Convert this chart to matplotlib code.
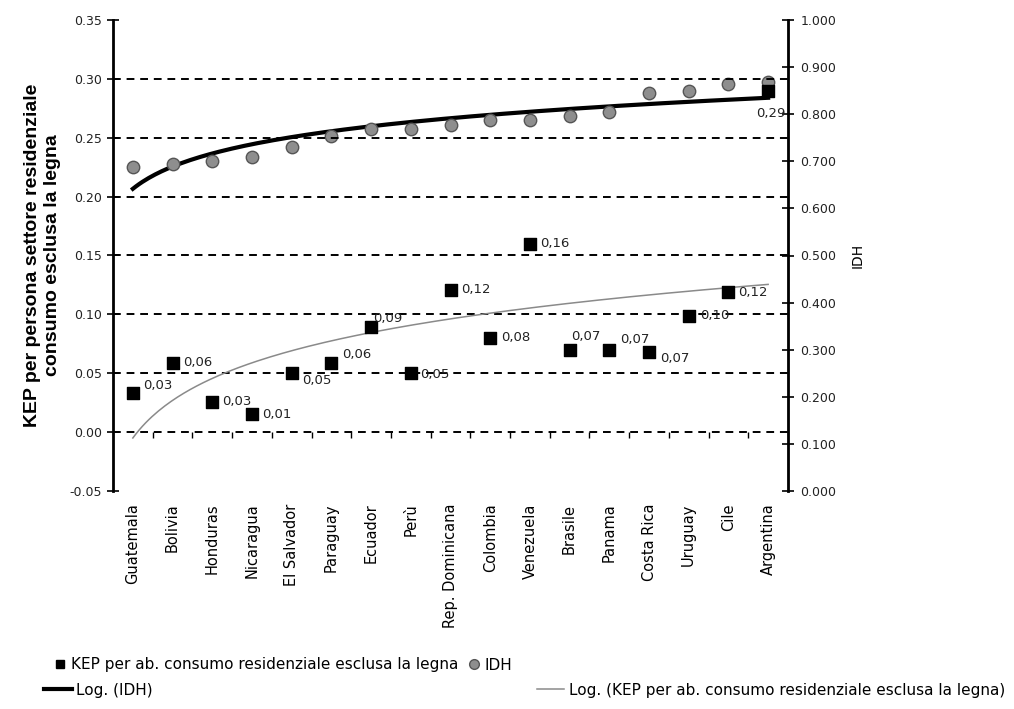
import numpy as np
import matplotlib
matplotlib.use("Agg")
from matplotlib import pyplot as plt
from matplotlib.lines import Line2D

plt.rcParams['font.family'] = ['DejaVu Sans']

# Paesi ordinati per IDH crescente
paesi = ['Guatemala', 'Bolivia', 'Honduras', 'Nicaragua', 'El Salvador',
         'Paraguay', 'Ecuador', 'Perù', 'Rep. Dominicana', 'Colombia',
         'Venezuela', 'Brasile', 'Panama', 'Costa Rica', 'Uruguay', 'Cile',
         'Argentina']

# KEP per abitante, consumo residenziale esclusa la legna
kep = [0.033, 0.059, 0.026, 0.015, 0.050, 0.059, 0.089, 0.050, 0.121,
       0.080, 0.160, 0.070, 0.070, 0.068, 0.099, 0.119, 0.290]
kep_lab = ['0,03', '0,06', '0,03', '0,01', '0,05', '0,06', '0,09', '0,05',
           '0,12', '0,08', '0,16', '0,07', '0,07', '0,07', '0,10', '0,12',
           '0,29']

# Indice di sviluppo umano
idh = [0.688, 0.694, 0.700, 0.709, 0.730, 0.754, 0.768, 0.769, 0.777,
       0.788, 0.788, 0.796, 0.805, 0.845, 0.849, 0.864, 0.869]

# spostamento delle etichette (pixel)
lab_dx = [10, 11, 10, 10, 10, 11, 2, 9, 11, 11, 10, 2, 11, 11, 11, 10, -12]
lab_dy = [8, 0, 0, 0, -7, 8, 9, -1, 0, 0, 0, 13, 10, -6, 0, 0, -23]

x = np.arange(len(paesi))
xe = x + 1.0  # posizioni come nelle tendenze di Excel (1..n)

fig = plt.figure(figsize=(10.14, 7.09), dpi=100)
ax = fig.add_axes([113/1014, 1-491/709, (788-113)/1014, (491-20)/709])
ax2 = ax.twinx()

ax.set_xlim(-0.5, len(paesi) - 0.5)
ax.set_ylim(-0.05, 0.35)
ax2.set_ylim(0.0, 1.0)

# griglia tratteggiata
ax.set_yticks(np.arange(-0.05, 0.351, 0.05))
ax.set_yticklabels(['%.2f' % v for v in np.arange(-0.05, 0.351, 0.05)])
for v in np.arange(0.0, 0.301, 0.05):
    ax.axhline(v, color='black', lw=1.4, ls=(0, (4, 3)), zorder=0.5)

ax2.set_yticks(np.arange(0, 1.001, 0.1))
ax2.set_yticklabels(['%.3f' % v for v in np.arange(0, 1.001, 0.1)])

for a in (ax, ax2):
    a.spines['top'].set_visible(False)
    a.spines['bottom'].set_visible(False)
ax2.spines['left'].set_visible(False)
ax.spines['left'].set_linewidth(2)
ax2.spines['right'].set_linewidth(2)
ax.tick_params(axis='y', direction='inout', length=8, width=1.2,
               labelsize=9, labelcolor='#222222', pad=4)
ax2.tick_params(axis='y', direction='inout', length=8, width=1.2,
                labelsize=9, labelcolor='#222222', pad=5)

# etichette delle categorie
ax.set_xticks(x)
ax.set_xticklabels(paesi, rotation=90, fontsize=10.5, va='top')
ax.tick_params(axis='x', length=0, pad=9)

# tacche dell'asse orizzontale su y = 0
sec = ax.secondary_xaxis(0.125)
sec.set_xticks(np.arange(0.5, len(paesi) - 1, 1.0))
sec.set_xticklabels([])
sec.spines['bottom'].set_visible(False)
sec.tick_params(length=4, width=1, direction='out')

# tendenze logaritmiche
xs = np.linspace(1, len(paesi), 200)
a_k, b_k = np.polyfit(np.log(xe), kep, 1)
ax.plot(xs - 1, a_k*np.log(xs) + b_k, color='#8a8a8a', lw=1.1, zorder=2)
a_i, b_i = np.polyfit(np.log(xe), idh, 1)
ax2.plot(xs - 1, a_i*np.log(xs) + b_i, color='black', lw=3, zorder=2)

ax2.scatter(x, idh, marker='o', s=80, color='#8e8e8e', edgecolor='#555555',
            lw=1, zorder=3)
ax.scatter(x, kep, marker='s', s=65, color='black', zorder=3)
ax.set_zorder(ax2.get_zorder() + 1)
ax.patch.set_visible(False)

for xi, yi, t, dx, dy in zip(x, kep, kep_lab, lab_dx, lab_dy):
    ax.annotate(t, (xi, yi), xytext=(dx*0.72, dy*0.72), textcoords='offset points',
                ha='left', va='center', fontsize=9.5, color='#222222')

ax.set_ylabel('KEP per persona settore residenziale\nconsumo esclusa la legna',
              fontsize=14, fontweight='bold', labelpad=6,
              family=['Liberation Sans', 'DejaVu Sans'])
ax2.set_ylabel('IDH', fontsize=10, rotation=90, labelpad=10)

# legenda
h1 = [Line2D([], [], ls='none', marker='s', color='black', ms=6),
      Line2D([], [], ls='none', marker='o', color='#8e8e8e', mec='#555555', ms=7)]
fig.legend(h1, ['KEP per ab. consumo residenziale esclusa la legna', 'IDH'],
           loc='center left', bbox_to_anchor=(0.04, 1-665/709), ncol=2,
           frameon=False, fontsize=11, handlelength=0.8, handletextpad=0.3,
           columnspacing=0.6)
fig.legend([Line2D([], [], color='black', lw=3)], ['Log. (IDH)'],
           loc='center left', bbox_to_anchor=(0.03, 1-690/709),
           frameon=False, fontsize=11, handlelength=1.8, handletextpad=0.3)
fig.legend([Line2D([], [], color='#8a8a8a', lw=1.1)],
           ['Log. (KEP per ab. consumo residenziale esclusa la legna)'],
           loc='center right', bbox_to_anchor=(1.005, 1-690/709),
           frameon=False, fontsize=11, handlelength=1.8, handletextpad=0.3)

fig.savefig('out.png', dpi=100)
